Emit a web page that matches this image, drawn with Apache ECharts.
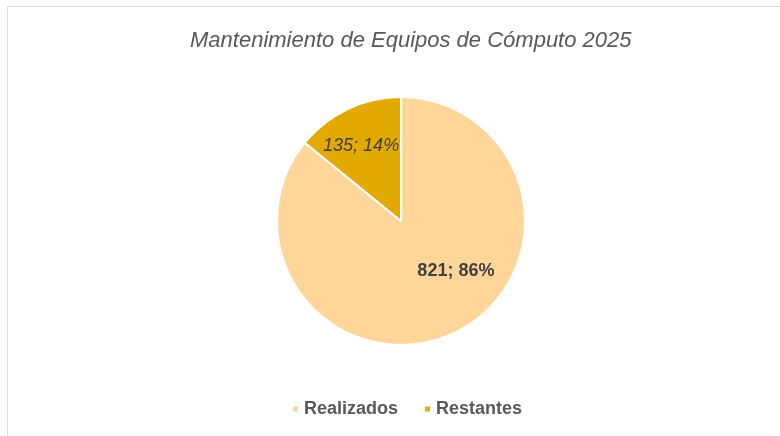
<!DOCTYPE html>
<html>
<head>
<meta charset="utf-8">
<script src="https://cdn.jsdelivr.net/npm/echarts@6/dist/echarts.min.js"></script>
<style>
  html, body { margin: 0; padding: 0; background: #fff; }
  #chart { width: 780px; height: 436px; }
</style>
</head>
<body>
<div id="chart"></div>
<script>
// datos del grafico
var categorias = ['Realizados', 'Restantes'];
var valores = [821, 135];
var porcentajes = ['86%', '14%'];
var colores = ['#FFD599', '#E2AA00'];

var myChart = echarts.init(document.getElementById('chart'));

var datos = categorias.map(function (c, i) {
    return {
        name: c,
        value: valores[i],
        itemStyle: { color: colores[i] },
        label: i === 0
            ? { fontWeight: 'bold', fontStyle: 'normal', offset: [27, -9] }
            : { fontWeight: 'normal', fontStyle: 'italic', offset: [-12, -16] }
    };
});

var option = {
    backgroundColor: '#fff',
    animation: false,
    graphic: [{
        type: 'rect',
        shape: { x: 7.5, y: 6.5, width: 820, height: 480 },
        style: { fill: 'none', stroke: '#d9d9d9', lineWidth: 1 },
        silent: true
    }],
    title: {
        text: 'Mantenimiento de Equipos de Cómputo 2025',
        left: 185,
        top: 25,
        textStyle: {
            fontFamily: 'Liberation Sans',
            fontSize: 22,
            fontStyle: 'italic',
            fontWeight: 'normal',
            color: '#595959'
        }
    },
    legend: {
        data: categorias,
        bottom: 13,
        left: 286,
        icon: 'rect',
        itemWidth: 7,
        itemHeight: 7,
        itemGap: 25,
        textStyle: {
            fontFamily: 'Liberation Sans',
            fontSize: 18,
            fontWeight: 'bold',
            color: '#595959'
        }
    },
    series: [{
        type: 'pie',
        center: [401, 221],
        radius: 124,
        startAngle: 90,
        clockwise: true,
        itemStyle: { borderColor: '#fff', borderWidth: 2 },
        label: {
            show: true,
            position: 'inside',
            fontFamily: 'Liberation Sans',
            fontSize: 18,
            color: '#404040',
            formatter: function (p) {
                return p.value + '; ' + porcentajes[p.dataIndex];
            }
        },
        labelLine: { show: false },
        emphasis: { disabled: true },
        data: datos
    }]
};

myChart.setOption(option);
</script>
</body>
</html>
